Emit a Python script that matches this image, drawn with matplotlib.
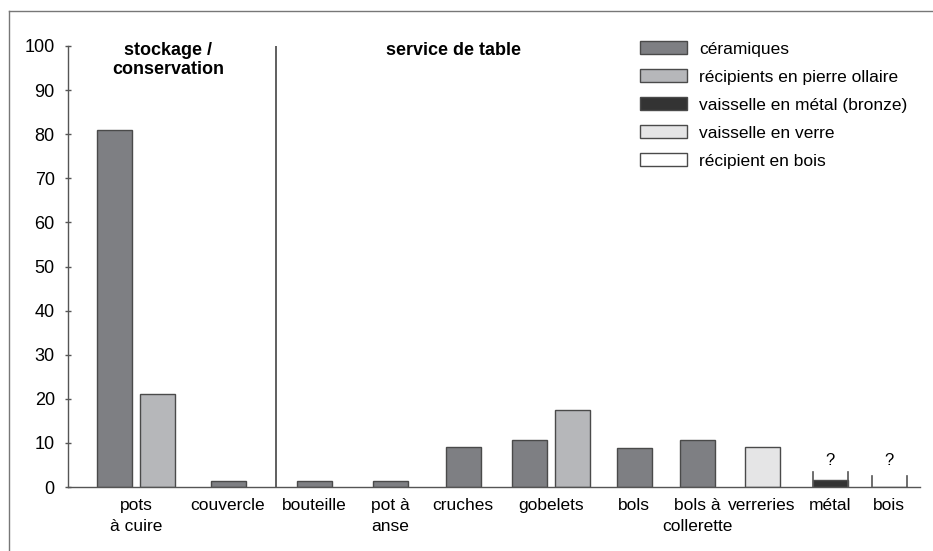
import numpy as np
from matplotlib import pyplot as plt
from matplotlib.lines import Line2D
from matplotlib.patches import Patch

plt.rcParams['font.family'] = ['Liberation Sans', 'DejaVu Sans']
plt.rcParams['font.size'] = 11

# Data
categories = ['pots\nà cuire', 'couvercle', 'bouteille', 'pot à\nanse', 'cruches', 'gobelets',
              'bols', 'bols à\ncollerette', 'verreries', 'métal', 'bois']
ceramiques = [81, 1.3, 1.3, 1.3, 9.1, 10.6, 8.9, 10.6, None, None, None]
pierre_ollaire = [21, None, None, None, None, 17.5, None, None, None, None, None]
metal = [None, None, None, None, None, None, None, None, None, 1.5, None]
verre = [None, None, None, None, None, None, None, None, 9.1, None, None]
bois = [None, None, None, None, None, None, None, None, None, None, 0]
uncertain = ['métal', 'bois']

series = [('céramiques', ceramiques, '#7e7f83'),
          ('récipients en pierre ollaire', pierre_ollaire, '#b6b7ba'),
          ('vaisselle en métal (bronze)', metal, '#333333'),
          ('vaisselle en verre', verre, '#e5e5e6'),
          ('récipient en bois', bois, '#ffffff')]

# layout: category centres along x (axis units ~ pixels)
centres = [68, 160, 246, 322, 395, 483, 566, 629, 694, 762, 821]
bar_w = 35
gap = 8
edge = '#4a4a4a'

fig = plt.figure(figsize=(9.33, 5.51), dpi=100)
ax = fig.add_axes([68 / 933, 64 / 551, 852 / 933, 441 / 551])

for i, cx in enumerate(centres):
    present = [(name, vals[i], col) for name, vals, col in series if vals[i] is not None]
    n = len(present)
    for k, (name, v, col) in enumerate(present):
        x = cx + (k - (n - 1) / 2.0) * (bar_w + gap)
        ax.bar(x, v, width=bar_w, color=col, edgecolor=edge, linewidth=1.0)
        if categories[i] in uncertain:
            h = 3.4 if v > 0 else 2.6
            for xe in (x - bar_w / 2, x + bar_w / 2):
                ax.plot([xe, xe], [0, h], color='#555555', lw=1.2)
            ax.text(x, 4.3, '?', ha='center', va='bottom', fontsize=12)

# separator between groups
ax.plot([208, 208], [0, 100], color='#444444', lw=1.2)
ax.text(100, 101, 'stockage /\nconservation', ha='center', va='top', fontweight='bold',
        fontsize=13, linespacing=1.15)
ax.text(386, 101, 'service de table', ha='center', va='top', fontweight='bold', fontsize=13)

ax.set_xlim(0, 852)
ax.set_ylim(0, 100)
ax.set_yticks(np.arange(0, 101, 10))
ax.set_xticks(centres)
ax.set_xticklabels(categories, linespacing=1.45)
ax.tick_params(axis='x', length=0, pad=8, labelsize=12.5)
ax.tick_params(axis='y', direction='inout', length=5, width=1, color='#555555', pad=7, labelsize=13)
for s in ['top', 'right']:
    ax.spines[s].set_visible(False)
for s in ['left', 'bottom']:
    ax.spines[s].set_color('#555555')
    ax.spines[s].set_linewidth(1.0)

handles = [Patch(facecolor=col, edgecolor=edge, linewidth=1.0) for _, _, col in series]
labels = [name for name, _, _ in series]
ax.legend(handles, labels, loc='upper left', bbox_to_anchor=(558 / 852, 1.042), frameon=False,
          handlelength=2.7, handleheight=0.7, handletextpad=0.72, labelspacing=0.74, fontsize=12.5,
          borderpad=0.3)

# outer frame
fig.add_artist(Line2D([9 / 933, 9 / 933], [0, 1 - 11 / 551], color='#777777', lw=1.0))
fig.add_artist(Line2D([9 / 933, 1], [1 - 11 / 551, 1 - 11 / 551], color='#777777', lw=1.0))

plt.savefig('out.png', dpi=100)
